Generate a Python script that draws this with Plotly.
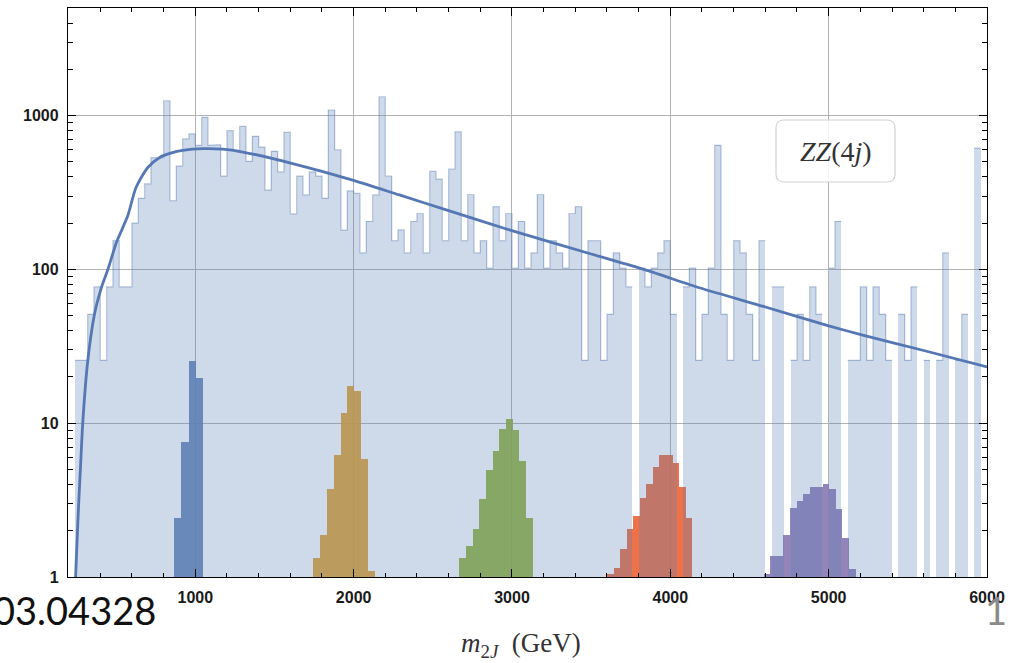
import plotly.graph_objects as go

# ---------------- data ----------------
# background ZZ(4j) histogram: 40 GeV bins, first left edge 240 GeV
bg_start = 240
bg_width = 40
bg_counts = [
    25.6, 25.6, 51, 77, 25.6, 77, 154, 77, 77, 200,
    290, 360, 533, 533, 1250, 280, 469, 706, 762, 640,
    975, 640, 647, 404, 800, 594, 853, 505, 733, 625,
    328, 586, 431, 780, 230, 404, 305, 431, 404, 290,
    1088, 600, 180, 324, 313, 128, 205, 305, 1327, 405,
    154, 181, 128, 205, 231, 128, 435, 386, 154, 450,
    785, 154, 307, 128, 154, 102, 256, 154, 231, 102,
    205, 102, 128, 307, 102, 154, 128, 102, 231, 256,
    25.6, 154, 154, 25.6, 51, 128, 102, 77, 0, 102,
    77, 102, 128, 154, 51, 0, 77, 102, 25.6, 51,
    102, 640, 51, 25.6, 154, 128, 51, 25.6, 154, 0,
    77, 77, 0, 25.6, 51, 25.6, 77, 51, 0, 102,
    205, 0, 25.6, 25.6, 77, 25.6, 77, 51, 25.6, 0,
    51, 25.6, 77, 0, 25.6, 0, 25.6, 128, 0, 25.6,
    51, 0, 614, 0,
]

# signal histograms (resonance masses 1-5 TeV)
sig_mass = [1000, 2000, 3000, 4000, 5000]
sig_start = [868, 1741, 2668, 3601, 4590]
sig_width = [44.5, 44.0, 42.1, 41.3, 41.4]
sig_1000 = [2.42, 7.5, 25.5, 19.8]
sig_2000 = [1.33, 1.88, 3.76, 6.2, 11.7, 17.5, 16.3, 5.85, 1.1]
sig_3000 = [1.33, 1.6, 2.06, 3.2, 4.96, 6.6, 9.2, 10.6, 9.0, 5.65, 2.42]
sig_4000 = [1.04, 1.15, 1.52, 2.06, 2.48, 3.27, 4.0, 5.16, 6.2, 6.2, 5.5, 3.87, 2.42]
sig_5000 = [1.05, 1.37, 1.37, 1.88, 2.8, 3.1, 3.45, 3.87, 3.87, 4.05, 3.76, 2.77, 1.79, 1.13]
sig_counts = [sig_1000, sig_2000, sig_3000, sig_4000, sig_5000]
sig_colors = ["#5E81B5", "#E19C24", "#8FB032", "#EB6235", "#8778B3"]

# background fit curve
fit_mass = [244, 252, 262, 275, 289, 320, 363, 405, 448, 500, 540, 575, 625,
            700, 775, 850, 920, 1046, 1172, 1300, 1615, 1994, 2289, 2600,
            3004, 3500, 3847, 4184, 4600, 5000, 5215, 5600, 6000]
fit_value = [1.0, 1.6, 2.8, 5.2, 10, 25, 51, 75, 100, 148, 185, 226, 340,
             460, 535, 572, 594, 610, 605, 580, 488, 381, 305, 241,
             178, 126, 99, 76, 57, 43, 37.4, 29.7, 23.2]

x_ticks = [1000, 2000, 3000, 4000, 5000, 6000]
y_ticks = [1, 10, 100, 1000]
y_ticktext = ["1", "10", "100", "1000"]

# ---------------- figure ----------------
fig = go.Figure()

for start, w, vals, col in zip(sig_start, sig_width, sig_counts, sig_colors):
    xs = [start + w * (i + 0.5) for i in range(len(vals))]
    fig.add_trace(go.Bar(x=xs, y=vals, width=w,
                         marker=dict(color=col, opacity=0.9, line=dict(width=0)),
                         hoverinfo="x+y"))

bg_x = [bg_start + bg_width * (i + 0.5) for i in range(len(bg_counts))]
bg_y = [v if v > 0 else None for v in bg_counts]
fig.add_trace(go.Bar(x=bg_x, y=bg_y, width=bg_width,
                     marker=dict(color="rgba(94,129,181,0.30)", line=dict(width=0)),
                     name="ZZ(4j)"))

# histogram outline (top edges + steps), broken at empty bins
out_x, out_y = [], []
for i, v in enumerate(bg_counts):
    left = bg_start + bg_width * i
    if v > 0:
        out_x += [left, left + bg_width]
        out_y += [v, v]
    else:
        out_x.append(left)
        out_y.append(None)
fig.add_trace(go.Scatter(x=out_x, y=out_y, mode="lines", connectgaps=False,
                         line=dict(color="rgba(94,129,181,0.45)", width=1.2),
                         hoverinfo="skip"))

fig.add_trace(go.Scatter(x=fit_mass, y=fit_value, mode="lines",
                         line=dict(color="#5577b3", width=2.8, shape="spline", smoothing=0.7),
                         hoverinfo="skip"))

x_minor = [m for m in range(200, 6001, 200) if m % 1000 != 0]
y_minor = [d * f for d in (1, 10, 100, 1000) for f in range(2, 10) if d * f < 5000]

tickfont = dict(family="Liberation Sans, Arial, sans-serif", size=16, color="#1a1a1a",
                weight="bold")

fig.update_layout(
    width=1014, height=663,
    margin=dict(l=68, r=27, t=8, b=86, autoexpand=False),
    paper_bgcolor="white", plot_bgcolor="white",
    barmode="overlay", bargap=0, showlegend=False,
    xaxis=dict(range=[196, 6000], tickmode="array", tickvals=x_ticks,
               ticks="inside", ticklen=8, tickwidth=1, tickcolor="black",
               showline=True, linecolor="black", linewidth=1.3, mirror="ticks",
               showgrid=True, gridcolor="#b2b2b2", gridwidth=1, zeroline=False,
               tickfont=tickfont, ticklabelstandoff=6,
               minor=dict(tickmode="array", tickvals=x_minor, ticks="inside",
                          ticklen=4, tickwidth=1, tickcolor="black", showgrid=False)),
    yaxis=dict(type="log", range=[0, 3.70], tickmode="array", tickvals=y_ticks,
               ticktext=y_ticktext,
               ticks="inside", ticklen=8, tickwidth=1, tickcolor="black",
               showline=True, linecolor="black", linewidth=1.3, mirror="ticks",
               showgrid=True, gridcolor="#b2b2b2", gridwidth=1, zeroline=False,
               tickfont=tickfont, ticklabelstandoff=5,
               minor=dict(tickmode="array", tickvals=y_minor, ticks="inside",
                          ticklen=5, tickwidth=1, tickcolor="black", showgrid=False)),
)

# legend box with rounded corners (pixel-sized, anchored in paper coords)
hw, hh, r = 59.5, 31, 8
path = (f"M {-hw + r},{-hh} L {hw - r},{-hh} Q {hw},{-hh} {hw},{-hh + r} "
        f"L {hw},{hh - r} Q {hw},{hh} {hw - r},{hh} L {-hw + r},{hh} "
        f"Q {-hw},{hh} {-hw},{hh - r} L {-hw},{-hh + r} Q {-hw},{-hh} {-hw + r},{-hh} Z")
fig.add_shape(type="path", path=path, xref="paper", yref="paper",
              xsizemode="pixel", ysizemode="pixel",
              xanchor=(835.5 - 68) / 919, yanchor=(577 - 151) / 569,
              line=dict(color="#d2d2d2", width=1.2),
              fillcolor="rgba(255,255,255,0.85)", layer="above")
fig.add_annotation(x=(836 - 68) / 919, y=(577 - 152) / 569, xref="paper", yref="paper",
                   text="<i>ZZ</i>(4<i>j</i>)", showarrow=False,
                   font=dict(family="Liberation Serif, DejaVu Serif, serif", size=28, color="#333"),
                   xanchor="center", yanchor="middle")

# axis title
fig.add_annotation(x=(521 - 68) / 919, y=(577 - 645) / 569, xref="paper", yref="paper",
                   text="<i>m</i><sub>2<i>J</i></sub>  (GeV)", showarrow=False,
                   font=dict(family="Liberation Serif, DejaVu Serif, serif", size=27, color="#333"),
                   xanchor="center", yanchor="middle")

# slide texts
fig.add_annotation(x=(158 - 68) / 919, y=(577 - 610) / 569, xref="paper", yref="paper",
                   text="03.04328", showarrow=False,
                   font=dict(family="Lato, Open Sans, sans-serif", size=38, color="#111"),
                   xanchor="right", yanchor="middle")
fig.add_annotation(x=(996 - 68) / 919, y=(577 - 610) / 569, xref="paper", yref="paper",
                   text="1", showarrow=False,
                   font=dict(family="Lato, Open Sans, sans-serif", size=38, color="#8a8a8a"),
                   xanchor="center", yanchor="middle")

fig.write_html("out.html", config={"displayModeBar": False},
               post_script="document.body.style.margin='0';document.body.style.overflow='hidden';")
